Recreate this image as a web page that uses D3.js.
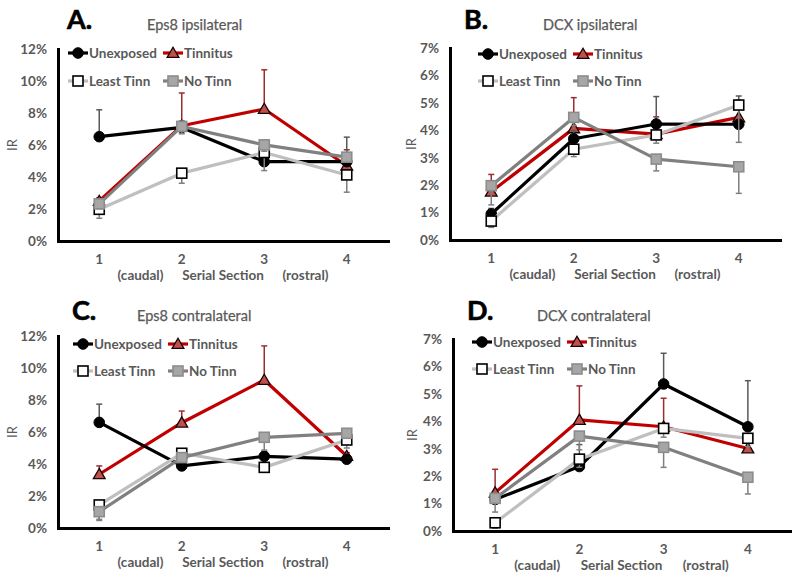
<!DOCTYPE html>
<html>
<head>
<meta charset="utf-8">
<script src="https://d3js.org/d3.v7.min.js"></script>
<style>
  body { margin: 0; background: #fff; }
  svg { display: block; }
  text { font-family: Lato, "Open Sans", sans-serif; }
</style>
</head>
<body>
<svg id="chart" width="800" height="578"></svg>
<script>
var sections = ["1", "2", "3", "4"],
  sectionNotes = ["(caudal)", "Serial Section", "(rostral)"],
  seriesNames = ["Unexposed", "Tinnitus", "Least Tinn", "No Tinn"];

// mean IR (%) and error bar length (%) per serial section
var eps8IpsiUnexposed = [6.52, 7.1, 4.96, 4.96], eps8IpsiUnexposedErr = [1.68, 0.4, 0.5, 1.53];
var eps8IpsiTinnitus = [2.5, 7.2, 8.25, 4.7], eps8IpsiTinnitusErr = [0.2, 2.05, 2.45, 1.0];
var eps8IpsiLeast = [1.98, 4.24, 5.53, 4.13], eps8IpsiLeastErr = [0.56, 0.63, 1.13, 1.08];
var eps8IpsiNo = [2.32, 7.16, 6.01, 5.24], eps8IpsiNoErr = [0.3, 0.46, 0.4, 0.3];

var dcxIpsiUnexposed = [0.95, 3.69, 4.23, 4.22], dcxIpsiUnexposedErr = [0.2, 0.3, 1.0, 1.03];
var dcxIpsiTinnitus = [1.76, 4.07, 3.86, 4.47], dcxIpsiTinnitusErr = [0.63, 1.12, 0.63, 0.63];
var dcxIpsiLeast = [0.69, 3.31, 3.83, 4.92], dcxIpsiLeastErr = [0.23, 0.27, 0.3, 1.36];
var dcxIpsiNo = [1.98, 4.47, 2.95, 2.67], dcxIpsiNoErr = [0.7, 0.3, 0.43, 0.97];

var eps8ContraUnexposed = [6.6, 3.88, 4.48, 4.3], eps8ContraUnexposedErr = [1.14, 0.3, 0.3, 0.3];
var eps8ContraTinnitus = [3.36, 6.58, 9.25, 4.5], eps8ContraTinnitusErr = [0.52, 0.73, 2.13, 0.2];
var eps8ContraLeast = [1.44, 4.67, 3.79, 5.5], eps8ContraLeastErr = [0.9, 0.2, 0.2, 0.5];
var eps8ContraNo = [1.02, 4.4, 5.67, 5.92], eps8ContraNoErr = [0.55, 0.2, 0.8, 0.3];

var dcxContraUnexposed = [1.15, 2.35, 5.36, 3.8], dcxContraUnexposedErr = [0.2, 0.8, 1.12, 1.68];
var dcxContraTinnitus = [1.4, 4.05, 3.8, 3.01], dcxContraTinnitusErr = [0.85, 1.24, 1.04, 0.2];
var dcxContraLeast = [0.3, 2.62, 3.74, 3.38], dcxContraLeastErr = [0.2, 0.3, 0.32, 0.3];
var dcxContraNo = [1.19, 3.46, 3.05, 1.96], dcxContraNoErr = [0.5, 0.5, 0.73, 0.61];

// look of each series: line, marker, error bar (dir +1 = up, -1 = down)
var styles = [
  { line: "#000000", shape: "circle", fill: "#000000", stroke: "#000000", err: "#595959", dir: 1 },
  { line: "#c00000", shape: "triangle", fill: "#c0504d", stroke: "#1a0000", err: "#9b2d30", dir: 1 },
  { line: "#bfbfbf", shape: "square", fill: "#ffffff", stroke: "#000000", err: "#7f7f7f", dir: -1 },
  { line: "#808080", shape: "square", fill: "#a6a6a6", stroke: "#8c8c8c", err: "#7f7f7f", dir: -1 }
];
var drawOrder = [1, 0, 2, 3];

var panels = [
  { letter: "A.", title: "Eps8 ipsilateral", yMax: 12, yStep: 2,
    left: 58, right: 388, top: 49, bottom: 241, letterX: 67, titleX: 147, letterY: 29,
    legX: [10, 105], legY: [4, 32], irX: 13,
    means: [eps8IpsiUnexposed, eps8IpsiTinnitus, eps8IpsiLeast, eps8IpsiNo],
    errs: [eps8IpsiUnexposedErr, eps8IpsiTinnitusErr, eps8IpsiLeastErr, eps8IpsiNoErr] },
  { letter: "B.", title: "DCX ipsilateral", yMax: 7, yStep: 1,
    left: 450, right: 780, top: 48, bottom: 240, letterX: 464, titleX: 543, letterY: 29,
    legX: [28, 123], legY: [6, 33], irX: 412,
    means: [dcxIpsiUnexposed, dcxIpsiTinnitus, dcxIpsiLeast, dcxIpsiNo],
    errs: [dcxIpsiUnexposedErr, dcxIpsiTinnitusErr, dcxIpsiLeastErr, dcxIpsiNoErr] },
  { letter: "C.", title: "Eps8 contralateral", yMax: 12, yStep: 2,
    left: 58, right: 388, top: 336, bottom: 528, letterX: 72, titleX: 137, letterY: 320,
    legX: [15, 110], legY: [8, 35], irX: 13,
    means: [eps8ContraUnexposed, eps8ContraTinnitus, eps8ContraLeast, eps8ContraNo],
    errs: [eps8ContraUnexposedErr, eps8ContraTinnitusErr, eps8ContraLeastErr, eps8ContraNoErr] },
  { letter: "D.", title: "DCX contralateral", yMax: 7, yStep: 1,
    left: 453, right: 790, top: 339, bottom: 531, letterX: 467, titleX: 537, letterY: 320,
    legX: [19, 114], legY: [3, 30], irX: 413,
    means: [dcxContraUnexposed, dcxContraTinnitus, dcxContraLeast, dcxContraNo],
    errs: [dcxContraUnexposedErr, dcxContraTinnitusErr, dcxContraLeastErr, dcxContraNoErr] }
];

var svg = d3.select("#chart");
var grey = "#595959";

function marker(sel, s, cx, cy) {
  if (s.shape === "circle") {
    sel.append("circle").attr("cx", cx).attr("cy", cy).attr("r", 5.3)
      .attr("fill", s.fill).attr("stroke", s.stroke);
  } else if (s.shape === "square") {
    sel.append("rect").attr("x", cx - 5).attr("y", cy - 5).attr("width", 10).attr("height", 10)
      .attr("fill", s.fill).attr("stroke", s.stroke).attr("stroke-width", 1.6);
  } else {
    sel.append("path").attr("d", d3.symbol().type(d3.symbolTriangle).size(60)())
      .attr("transform", "translate(" + cx + "," + (cy + 1) + ")")
      .attr("fill", s.fill).attr("stroke", s.stroke).attr("stroke-width", 1.3);
  }
}

panels.forEach(function (p) {
  var g = svg.append("g");
  var x = d3.scaleBand().domain(sections).range([p.left, p.right]);
  var y = d3.scaleLinear().domain([0, p.yMax]).range([p.bottom, p.top]);
  var cx = function (i) { return x(sections[i]) + x.bandwidth() / 2; };

  g.append("text").attr("x", p.letterX).attr("y", p.letterY)
    .attr("font-family", "Liberation Sans, Arial, sans-serif")
    .attr("font-weight", "bold").attr("font-size", 27).attr("fill", "#000")
    .attr("stroke", "#000").attr("stroke-width", 0.6).text(p.letter);
  g.append("text").attr("x", p.titleX).attr("y", p.letterY + 1)
    .attr("font-size", 14.5).attr("fill", grey).attr("stroke", grey).attr("stroke-width", 0.25)
    .text(p.title);

  var ya = g.append("g").attr("transform", "translate(" + p.left + ",0)")
    .call(d3.axisLeft(y).tickValues(d3.range(0, p.yMax + 1, p.yStep))
      .tickSize(0).tickPadding(11).tickFormat(function (d) { return d + "%"; }));
  var xa = g.append("g").attr("transform", "translate(0," + p.bottom + ")")
    .call(d3.axisBottom(x).tickSize(0).tickPadding(13));
  [ya, xa].forEach(function (a) {
    a.select(".domain").attr("stroke", "#000").attr("stroke-width", 3).attr("stroke-linecap", "square");
    a.selectAll("text").attr("font-family", "Lato, sans-serif").attr("font-size", 13.5)
      .attr("font-weight", "bold").attr("fill", grey);
  });

  g.selectAll(".note").data(sectionNotes).enter().append("text")
    .attr("x", function (d, i) { return (cx(i) + cx(i + 1)) / 2; })
    .attr("y", p.bottom + 39).attr("text-anchor", "middle")
    .attr("font-size", 13.5).attr("font-weight", "bold").attr("fill", grey)
    .text(function (d) { return d; });

  g.append("text").attr("transform", "translate(" + (p.irX + 4) + "," + ((p.top + p.bottom) / 2) + ") rotate(-90)")
    .attr("text-anchor", "middle").attr("font-size", 13).attr("fill", grey).text("IR");

  var line = d3.line().x(function (d, i) { return cx(i); }).y(function (d) { return y(d); });

  drawOrder.forEach(function (k) {
    var s = styles[k], m = p.means[k], e = p.errs[k];
    var sg = g.append("g");
    m.forEach(function (v, i) {
      var y1 = y(v + s.dir * e[i]);
      sg.append("line").attr("x1", cx(i)).attr("x2", cx(i)).attr("y1", y(v)).attr("y2", y1)
        .attr("stroke", s.err).attr("stroke-width", 1.5);
      sg.append("line").attr("x1", cx(i) - 3).attr("x2", cx(i) + 3).attr("y1", y1).attr("y2", y1)
        .attr("stroke", s.err).attr("stroke-width", 1.5);
    });
    sg.append("path").datum(m).attr("d", line).attr("fill", "none")
      .attr("stroke", s.line).attr("stroke-width", 3.2).attr("stroke-linejoin", "round");
    m.forEach(function (v, i) { marker(sg, s, cx(i), y(v)); });
  });

  seriesNames.forEach(function (name, k) {
    var s = styles[k];
    var lx = p.left + p.legX[k % 2], ly = p.top + p.legY[Math.floor(k / 2)];
    g.append("line").attr("x1", lx).attr("x2", lx + 20).attr("y1", ly).attr("y2", ly)
      .attr("stroke", s.line).attr("stroke-width", 3.2);
    marker(g, s, lx + 10, ly);
    g.append("text").attr("x", lx + 21).attr("y", ly + 4.5)
      .attr("font-size", 13.5).attr("font-weight", "bold").attr("fill", grey).text(name);
  });
});
</script>
</body>
</html>
